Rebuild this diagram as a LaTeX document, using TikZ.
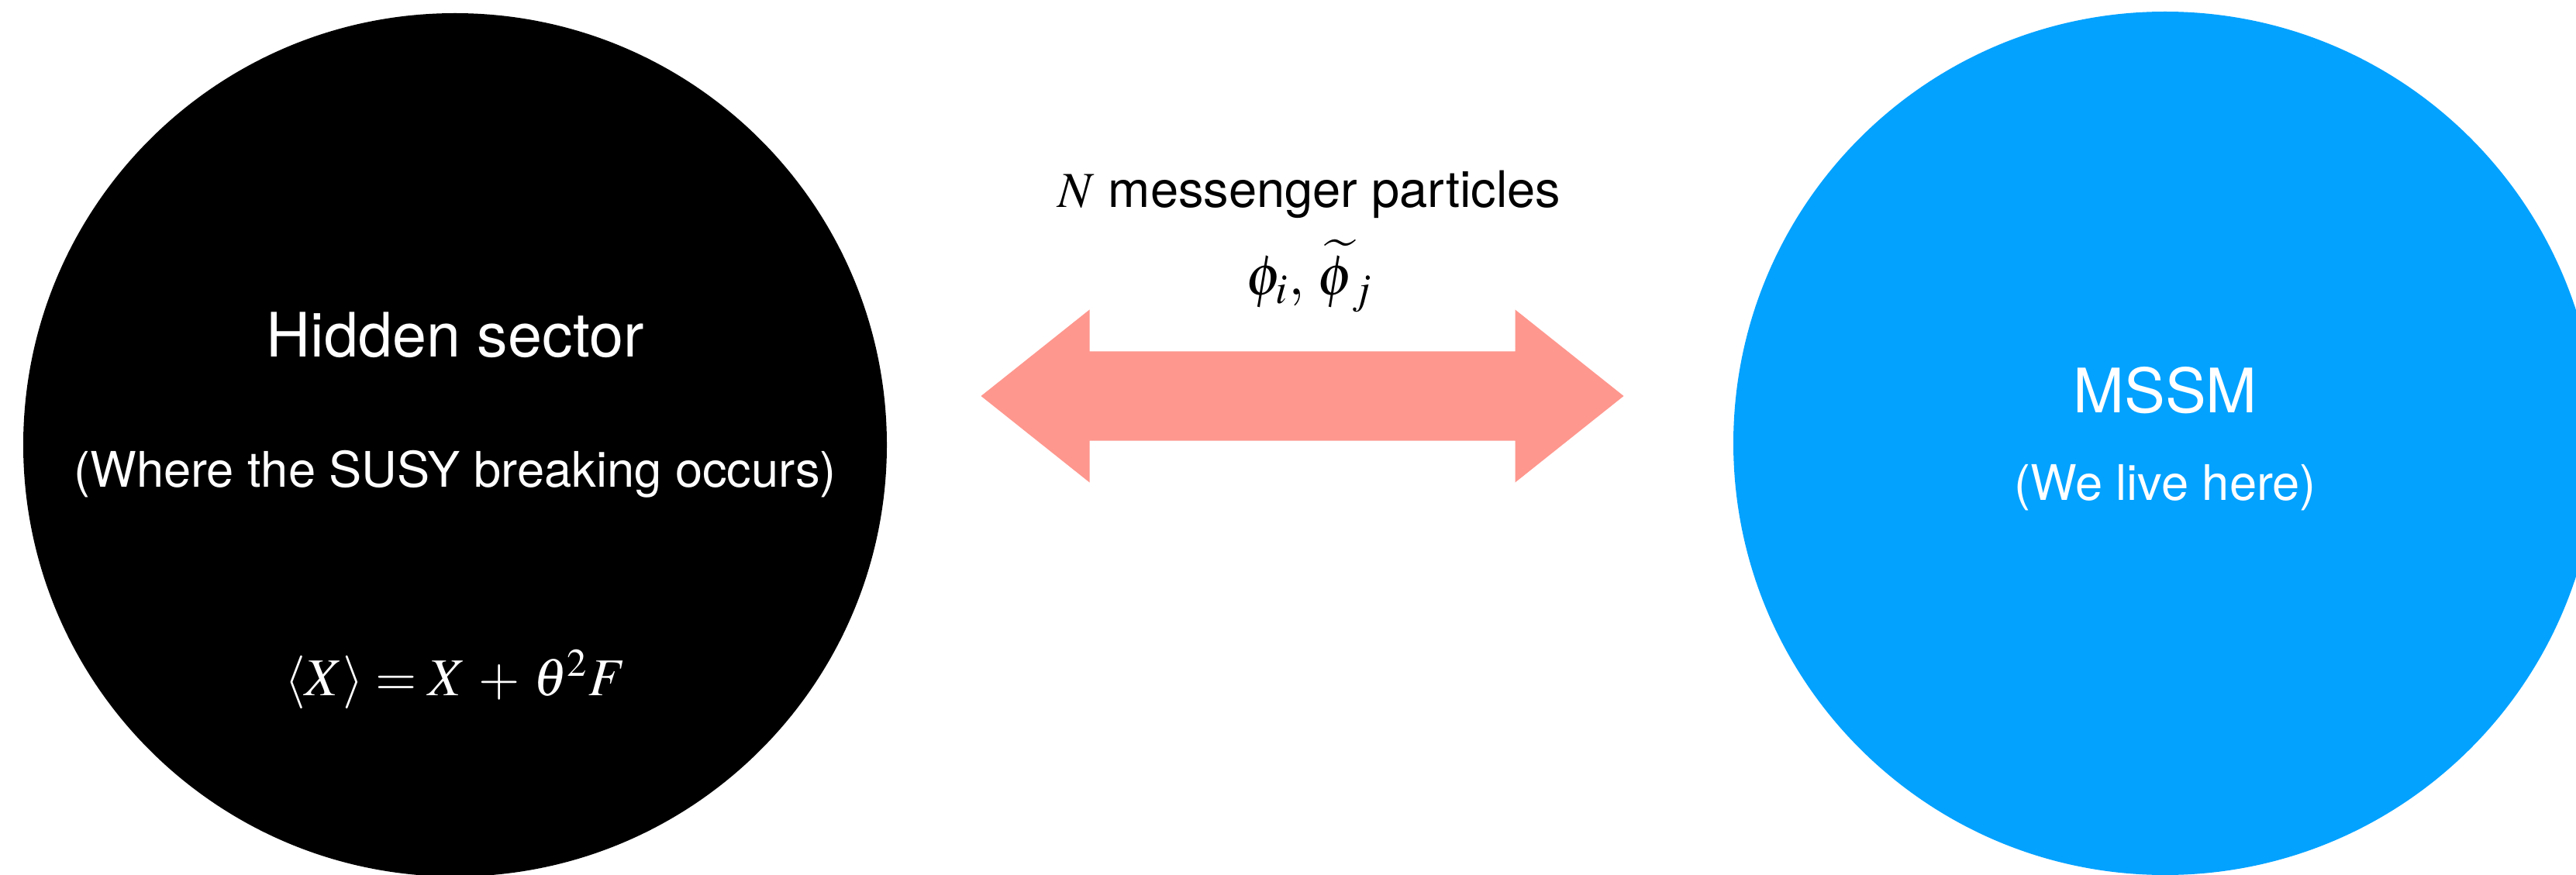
\documentclass[tikz,border=0pt]{standalone}
\usepackage{mathptmx}
\usepackage{fontspec}
\setmainfont{TeX Gyre Heros}
\usetikzlibrary{positioning}
\definecolor{mssmblue}{HTML}{03A2FF}
\definecolor{linkred}{HTML}{FE978E}

\begin{document}
\begin{tikzpicture}[
    sector/.style={circle, minimum size=11.14cm, inner sep=0pt},
    title/.style={font=\fontsize{22.5}{27}\selectfont, text=white, inner sep=0pt},
    note/.style={font=\fontsize{18}{22}\selectfont, text=white, inner sep=0pt},
    label/.style={font=\fontsize{18.5}{22}\selectfont, inner sep=0pt},
]
\useasboundingbox (0,0) rectangle (33.23,11.28);
\clip (0,0) rectangle (33.23,11.28);

% Sectors
\node[sector, fill=black] (hidden) at (5.87,5.54) {};
\node[sector, fill=mssmblue] (mssm) at (27.93,5.56) {};

% Hidden sector texts
\node[title] (hiddenname) at ([yshift=1.42cm]hidden.center) {Hidden sector};
\node[note] (hiddennote) at ([yshift=-0.38cm]hidden.center) {(Where the SUSY breaking occurs)};
\node[note, font=\fontsize{19.5}{23}\selectfont] (vev) at ([yshift=-3.03cm]hidden.center) {$\langle X\rangle = X \,+\, \theta^2 F$};

% MSSM texts
\node[title] (mssmname) at ([yshift=0.68cm]mssm.center) {MSSM};
\node[note] (mssmnote) at ([yshift=-0.57cm]mssm.center) {(We live here)};

% Messenger arrow
\coordinate (link) at (16.80,6.17);
\fill[linkred] (link) ++(-4.145,0) -- ++(1.40,1.115) -- ++(0,-0.54) -- ++(5.49,0)
    -- ++(0,0.54) -- ++(1.40,-1.115) -- ++(-1.40,-1.115) -- ++(0,0.54)
    -- ++(-5.49,0) -- ++(0,-0.54) -- cycle;
\node[label] (fields) at ([xshift=0.09cm, yshift=1.55cm]link) {\fontsize{21}{25}\selectfont$\phi_i,\, \widetilde{\phi}_{\,j}$};
\node[label] (msg) at ([xshift=0.09cm, yshift=2.60cm]link) {$N$ messenger particles};

\end{tikzpicture}
\end{document}
